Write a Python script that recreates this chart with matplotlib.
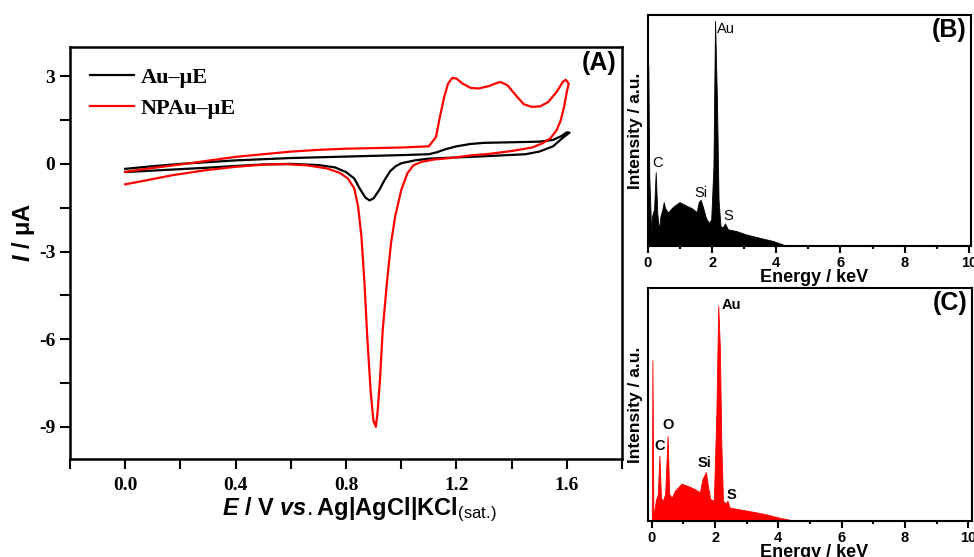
import numpy as np
import matplotlib
matplotlib.use("Agg")
from matplotlib import pyplot as plt
from matplotlib.ticker import MultipleLocator

plt.rcParams['axes.unicode_minus'] = False
plt.rcParams['mathtext.fontset'] = 'custom'
plt.rcParams['mathtext.rm'] = 'Liberation Sans'
plt.rcParams['mathtext.it'] = 'Liberation Sans:italic:bold'
plt.rcParams['mathtext.bf'] = 'Liberation Sans:bold'

# cyclic voltammograms (E in V, I in uA), forward scan then reverse scan
au_E = [0.00, 0.10, 0.20, 0.40, 0.60, 0.80, 1.00, 1.10, 1.13, 1.16, 1.20, 1.25, 1.30, 1.40, 1.50,
        1.55, 1.58, 1.60, 1.61, 1.60, 1.58, 1.55, 1.50, 1.45, 1.30, 1.20, 1.10, 1.05, 1.00, 0.98,
        0.96, 0.94, 0.92, 0.90, 0.885, 0.87, 0.85, 0.83, 0.80, 0.76, 0.70, 0.60, 0.50, 0.40, 0.30,
        0.20, 0.10, 0.00]
au_I = [-0.17, -0.08, 0.00, 0.12, 0.20, 0.25, 0.30, 0.33, 0.40, 0.50, 0.60, 0.68, 0.72, 0.74, 0.76,
        0.82, 0.95, 1.08, 1.07, 1.00, 0.85, 0.60, 0.42, 0.33, 0.26, 0.22, 0.18, 0.12, 0.02, -0.08,
        -0.25, -0.55, -0.90, -1.18, -1.25, -1.15, -0.85, -0.50, -0.28, -0.12, -0.04, 0.00, -0.02, -0.07, -0.13,
        -0.18, -0.23, -0.28]

npau_E = [0.00, 0.10, 0.20, 0.40, 0.60, 0.70, 0.80, 1.00, 1.10, 1.126, 1.14, 1.156, 1.17, 1.185, 1.20,
          1.222, 1.252, 1.28, 1.317, 1.347, 1.36, 1.385, 1.415, 1.444, 1.474, 1.504, 1.533, 1.563, 1.585,
          1.596, 1.607, 1.60, 1.59, 1.578, 1.563, 1.54, 1.511, 1.474, 1.40, 1.326, 1.252, 1.178, 1.119,
          1.074, 1.044, 1.022, 1.00, 0.978, 0.963, 0.948, 0.933, 0.923, 0.914, 0.908, 0.899, 0.889, 0.877,
          0.867, 0.856, 0.844, 0.83, 0.807, 0.778, 0.733, 0.659, 0.585, 0.511, 0.40, 0.289, 0.17, 0.067, 0.00]
npau_I = [-0.27, -0.14, -0.02, 0.24, 0.42, 0.48, 0.52, 0.56, 0.60, 0.92, 1.60, 2.30, 2.75, 2.94, 2.92,
          2.75, 2.60, 2.58, 2.66, 2.77, 2.80, 2.69, 2.35, 2.04, 1.95, 1.97, 2.12, 2.46, 2.80,
          2.88, 2.75, 2.46, 1.95, 1.49, 1.15, 0.87, 0.70, 0.56, 0.44, 0.35, 0.29, 0.20, 0.15,
          0.07, -0.05, -0.33, -0.90, -1.81, -2.72, -4.09, -5.69, -7.40, -8.54, -9.00, -8.77, -7.74, -5.92,
          -4.09, -2.50, -1.47, -0.84, -0.50, -0.31, -0.16, -0.05, -0.01, -0.02, -0.10, -0.22, -0.39, -0.58, -0.70]

# EDS spectra (energy in keV, normalised counts)
eds_b_E = [0.00, 0.01, 0.04, 0.10, 0.13, 0.19, 0.24, 0.29, 0.34, 0.39, 0.45, 0.49, 0.53, 0.62, 0.78,
           0.98, 1.19, 1.35, 1.52, 1.58, 1.64, 1.71, 1.81, 1.90, 1.97, 2.04, 2.09, 2.15, 2.20, 2.26,
           2.33, 2.40, 2.49, 2.75, 3.06, 3.47, 3.89, 4.20, 4.30, 10.1]
eds_b_I = [0.00, 0.78, 0.30, 0.06, 0.13, 0.16, 0.32, 0.14, 0.07, 0.13, 0.16, 0.19, 0.165, 0.145, 0.17,
           0.19, 0.175, 0.165, 0.147, 0.19, 0.20, 0.17, 0.12, 0.10, 0.115, 0.345, 0.975, 0.63, 0.20, 0.086,
           0.08, 0.098, 0.072, 0.065, 0.05, 0.036, 0.022, 0.007, 0.00, 0.00]

eds_c_E = [0.00, 0.02, 0.05, 0.08, 0.13, 0.19, 0.24, 0.29, 0.35, 0.42, 0.50, 0.55, 0.63, 0.73, 0.94,
           1.15, 1.36, 1.52, 1.60, 1.71, 1.78, 1.85, 1.96, 2.04, 2.10, 2.15, 2.20, 2.25, 2.33, 2.39,
           2.46, 2.77, 3.19, 3.61, 4.03, 4.45, 4.55, 10.1]
eds_c_I = [0.00, 0.69, 0.03, 0.045, 0.09, 0.115, 0.28, 0.10, 0.085, 0.115, 0.364, 0.115, 0.10, 0.13, 0.16,
           0.15, 0.137, 0.123, 0.18, 0.21, 0.145, 0.094, 0.087, 0.46, 0.925, 0.75, 0.32, 0.087, 0.075, 0.087,
           0.058, 0.05, 0.04, 0.029, 0.014, 0.003, 0.00, 0.00]

eds_b_peaks = ["C", "Si", "S", "Au"]
eds_b_peak_pos = [(0.30, 0.36), (1.64, 0.23), (2.49, 0.13), (2.44, 0.94)]
eds_c_peaks = ["C", "O", "Si", "S", "Au"]
eds_c_peak_pos = [(0.26, 0.32), (0.52, 0.41), (1.68, 0.25), (2.51, 0.11), (2.53, 0.925)]

W, H = 974, 557
fig = plt.figure(figsize=(W / 100, H / 100), dpi=100)

def px_axes(left, top, right, bottom):
    return fig.add_axes([left / W, 1 - bottom / H, (right - left) / W, (bottom - top) / H])

# ---- (A) cyclic voltammetry ----
ax = px_axes(70, 47, 622, 459)
ax.plot(au_E, au_I, color='black', lw=1.6, label='Au\u2013\u03bcE')
ax.plot(npau_E, npau_I, color='#ff0000', lw=1.6, label='NPAu\u2013\u03bcE')
ax.set_xlim(-0.2, 1.8)
ax.set_ylim(-10.1, 4.0)
ax.xaxis.set_major_locator(MultipleLocator(0.4))
ax.xaxis.set_minor_locator(MultipleLocator(0.2))
ax.yaxis.set_major_locator(MultipleLocator(3))
ax.yaxis.set_minor_locator(MultipleLocator(1.5))
ax.set_xticks([0.0, 0.4, 0.8, 1.2, 1.6])
ax.set_xticklabels(['0.0', '0.4', '0.8', '1.2', '1.6'])
ax.tick_params(which='both', direction='out', length=7, width=1.5, top=False, right=False)
ax.tick_params(axis='x', which='both', pad=6)
ax.tick_params(axis='y', which='both', pad=3.5)
for lab in ax.get_xticklabels() + ax.get_yticklabels():
    lab.set_fontfamily('Liberation Serif')
    lab.set_fontweight('bold')
    lab.set_fontsize(14)
for s in ax.spines.values():
    s.set_linewidth(1.8)
ax.set_xlabel(r'$\it{E}$ / V $\it{vs.}$Ag|AgCl|KCl$_{\rm (sat.\!)}$',
              fontsize=17, fontweight='bold', family='Liberation Sans')
ax.xaxis.set_label_coords(0.525, -0.09)
ax.set_ylabel(r'$\it{I}$ / μA', fontsize=17, fontweight='bold', family='Liberation Sans')
ax.yaxis.set_label_coords(-0.06, 0.55)
ax.legend(loc='upper left', bbox_to_anchor=(0.0, 1.0), frameon=False, handlelength=2.0,
          handletextpad=0.3, labelspacing=0.5,
          prop={'family': 'Liberation Serif', 'weight': 'bold', 'size': 16})
ax.text(0.99, 0.99, '(A)', transform=ax.transAxes, ha='right', va='top',
        fontsize=18, fontweight='bold', family='Liberation Sans')

# ---- (B), (C) EDS spectra ----
def eds_panel(box, E, I, color, xlim, peaks, pos, tag, peak_weight):
    a = px_axes(*box)
    a.fill_between(E, 0, I, color=color, lw=0.6, edgecolor=color)
    a.set_xlim(*xlim)
    a.set_ylim(0, 1.0)
    a.set_yticks([])
    a.xaxis.set_major_locator(MultipleLocator(2))
    a.xaxis.set_minor_locator(MultipleLocator(1))
    a.tick_params(axis='x', which='major', direction='out', length=5, width=1.5, pad=2)
    a.tick_params(axis='x', which='minor', direction='out', length=2.5, width=1.5)
    for lab in a.get_xticklabels():
        lab.set_fontfamily('Liberation Sans')
        lab.set_fontweight('bold')
        lab.set_fontsize(10.5)
    for s in a.spines.values():
        s.set_linewidth(1.5)
    for name, (x, y) in zip(peaks, pos):
        a.text(x, y, name, ha='center', va='center', fontsize=10.5,
               fontweight=peak_weight, family='Liberation Sans')
    a.text(0.985, 0.985, tag, transform=a.transAxes, ha='right', va='top',
           fontsize=18, fontweight='bold', family='Liberation Sans')
    a.set_xlabel('Energy / keV', fontsize=13, fontweight='bold', family='Liberation Sans')
    a.set_ylabel('Intensity / a.u.', fontsize=12.5, fontweight='bold', family='Liberation Sans')
    return a

axb = eds_panel((648, 15, 971, 246), eds_b_E, eds_b_I, 'black', (0, 10.07),
                eds_b_peaks, eds_b_peak_pos, '(B)', 'normal')
axb.xaxis.set_label_coords(0.514, -0.1)
axb.yaxis.set_label_coords(-0.016, 0.5)

axc = eds_panel((648, 288, 972, 521), eds_c_E, eds_c_I, '#ff0000', (-0.12, 10.12),
                eds_c_peaks, eds_c_peak_pos, '(C)', 'bold')
axc.xaxis.set_label_coords(0.514, -0.097)
axc.yaxis.set_label_coords(-0.016, 0.5)

fig.savefig('out.png', dpi=100)
